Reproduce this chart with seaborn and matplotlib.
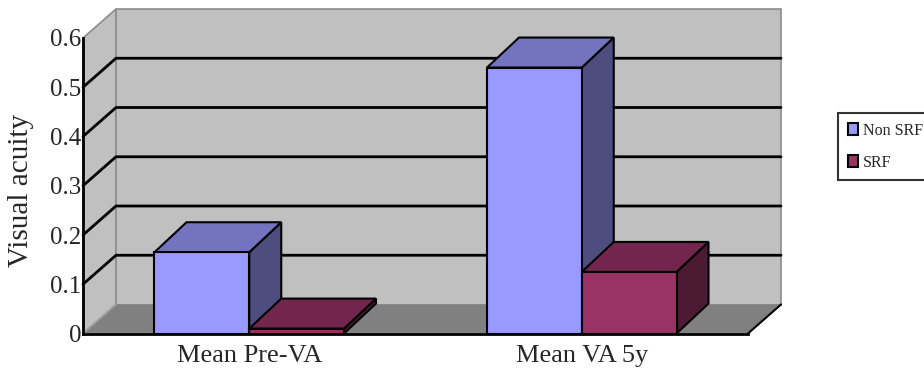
import numpy as np
import pandas as pd
import matplotlib
matplotlib.use("Agg")
import matplotlib.pyplot as plt
from matplotlib.patches import Polygon
from matplotlib.lines import Line2D
import seaborn as sns

# ---- data ----
periods = ["Mean Pre-VA", "Mean VA 5y"]
groups = ["Non SRF", "SRF"]
non_srf = [0.165, 0.54]
srf = [0.01, 0.125]
y_ticks = [0, 0.1, 0.2, 0.3, 0.4, 0.5, 0.6]

# ---- colours (front face, top face, side face) ----
front = {"Non SRF": "#9999FF", "SRF": "#993366"}
top = {"Non SRF": "#7373BF", "SRF": "#73264D"}
side = {"Non SRF": "#4D4D80", "SRF": "#4D1A33"}
WALL = "#C0C0C0"
FLOOR = "#808080"
EDGE = "#8C8C8C"

sns.set_style("white")
plt.rcParams["font.family"] = ["Liberation Serif", "DejaVu Serif"]

df = pd.DataFrame({
    "period": periods * 2,
    "group": [groups[0]] * len(periods) + [groups[1]] * len(periods),
    "va": non_srf + srf,
})

W, H, DPI = 924, 378, 100
fig = plt.figure(figsize=(W / DPI, H / DPI), dpi=DPI)
fig.patch.set_facecolor("white")

# front plane of the pseudo-3D box (in pixels)
left_px, right_px, zero_px, top_px = 83, 748, 333.5, 38
ax = fig.add_axes([left_px / W, 1 - zero_px / H,
                   (right_px - left_px) / W, (zero_px - top_px) / H])
ax.patch.set_visible(False)

sns.barplot(data=df, x="period", y="va", hue="group", order=periods,
            hue_order=groups, palette=front, width=0.57, saturation=1,
            edgecolor="black", linewidth=1.5, errorbar=None, ax=ax)

x0, x1 = -0.5, len(periods) - 0.5
y1 = max(y_ticks)
ax.set_xlim(x0, x1)
ax.set_ylim(0, y1)

# depth offsets converted from pixels to data units
sx = (x1 - x0) / (right_px - left_px)
sy = y1 / (zero_px - top_px)
wdx, wdy = 33 * sx, 29 * sy
bdx, bdy = 32 * sx, 30 * sy

# walls and floor
left_wall = Polygon([(x0, 0), (x0, y1), (x0 + wdx, y1 + wdy), (x0 + wdx, wdy)],
                    closed=True, fc=WALL, ec=EDGE, lw=1.2, zorder=0.1, clip_on=False)
back_wall = Polygon([(x0 + wdx, wdy), (x0 + wdx, y1 + wdy), (x1 + wdx, y1 + wdy), (x1 + wdx, wdy)],
                    closed=True, fc=WALL, ec=EDGE, lw=1.2, zorder=0.1, clip_on=False)
floor = Polygon([(x0, 0), (x1, 0), (x1 + wdx, wdy), (x0 + wdx, wdy)],
                closed=True, fc=FLOOR, ec="none", zorder=0.2, clip_on=False)
for p in (left_wall, back_wall, floor):
    ax.add_patch(p)
ax.add_line(Line2D([x0, x0 + wdx], [0, wdy], color="#A0A0A0", lw=1.2, zorder=0.25, clip_on=False))
ax.add_line(Line2D([x1, x1 + wdx], [0, wdy], color="black", lw=1.5, zorder=0.25, clip_on=False))

# gridlines running across the side wall and the back wall
for v in y_ticks[1:-1]:
    ax.add_line(Line2D([x0, x0 + wdx, x1 + wdx], [v, v + wdy, v + wdy],
                       color="black", lw=2, zorder=0.3, clip_on=False))

# extrude each bar: side and top faces, drawn left to right
bars = []
for cont, g in zip(ax.containers, groups):
    for rect in cont.patches:
        bars.append((rect, g))
bars.sort(key=lambda b: b[0].get_x())
for i, (rect, g) in enumerate(bars):
    bx, bw, bh = rect.get_x(), rect.get_width(), rect.get_height()
    base = 3 + 3 * i
    side_face = Polygon([(bx + bw, 0), (bx + bw, bh), (bx + bw + bdx, bh + bdy), (bx + bw + bdx, bdy)],
                        closed=True, fc=side[g], ec="black", lw=1.5, zorder=base, clip_on=False)
    top_face = Polygon([(bx, bh), (bx + bw, bh), (bx + bw + bdx, bh + bdy), (bx + bdx, bh + bdy)],
                       closed=True, fc=top[g], ec="black", lw=1.5, zorder=base + 1, clip_on=False)
    ax.add_patch(side_face)
    ax.add_patch(top_face)
    rect.set_zorder(base + 2)
    rect.set_clip_on(False)

# axes lines and ticks
for s in ("top", "right"):
    ax.spines[s].set_visible(False)
for s in ("left", "bottom"):
    ax.spines[s].set_color("black")
    ax.spines[s].set_linewidth(2)
    ax.spines[s].set_zorder(2.5)

ax.set_yticks(y_ticks, labels=[f"{v:g}" for v in y_ticks])
ax.tick_params(axis="y", direction="in", length=4, width=1.5, pad=1,
               labelsize=18, color="black")
ax.set_xticks(np.arange(len(periods) + 1) - 0.5, minor=True)
ax.tick_params(axis="x", which="minor", direction="in", length=7, width=1.5, color="black")
ax.tick_params(axis="x", which="major", length=0, pad=8, labelsize=19)
ax.grid(False)

ax.set_xlabel("")
ax.set_ylabel("Visual acuity", fontsize=21)
ax.yaxis.set_label_coords(-49 / (right_px - left_px), (zero_px - 190) / (zero_px - top_px))

# legend, stretched so its right border runs off the figure edge
sns.move_legend(ax, "upper left", bbox_to_anchor=(838 / W, 1 - 179 / H, 100 / W, 66 / H),
                bbox_transform=fig.transFigure, mode="expand", title=None, frameon=True,
                fancybox=False, fontsize=11.5, borderpad=0.6, labelspacing=1.0,
                handlelength=0.65, handleheight=0.85, handletextpad=0.3,
                borderaxespad=0)
leg = ax.get_legend()
leg.get_frame().set_edgecolor("black")
leg.get_frame().set_linewidth(1.5)
for h in leg.legend_handles:
    h.set_edgecolor("black")
    h.set_linewidth(1.5)

fig.savefig("out.png", dpi=DPI)
